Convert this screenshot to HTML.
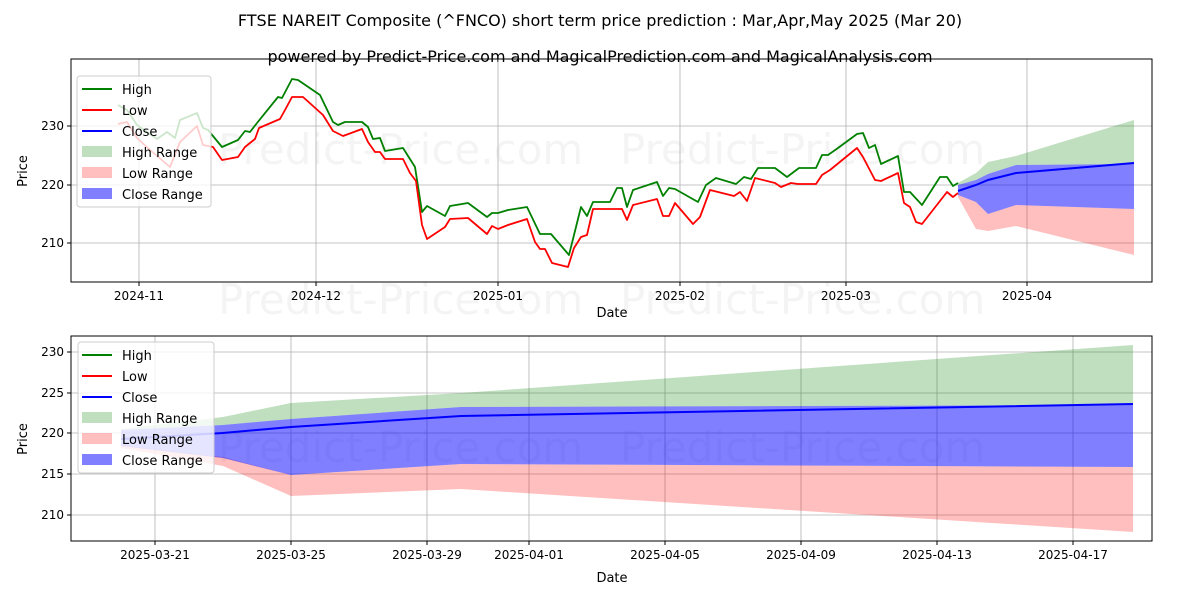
<!DOCTYPE html>
<html><head><meta charset="utf-8"><style>
body{margin:0;background:#fff;}
svg{display:block;font-family:"DejaVu Sans","Liberation Sans",sans-serif;}
</style></head><body>
<svg width="1200" height="600" viewBox="0 0 1200 600" xmlns="http://www.w3.org/2000/svg">
<rect width="1200" height="600" fill="#fff"/>
<text x="600" y="26" font-size="16" text-anchor="middle">FTSE NAREIT Composite (^FNCO) short term price prediction : Mar,Apr,May 2025 (Mar 20)</text>
<text x="600" y="62" font-size="16" text-anchor="middle">powered by Predict-Price.com and MagicalPrediction.com and MagicalAnalysis.com</text>

<!-- watermarks -->
<g fill="#000" fill-opacity="0.045" font-size="42">
<text x="218" y="164">Predict-Price.com</text>
<text x="620" y="164">Predict-Price.com</text>
<text x="218" y="314">Predict-Price.com</text>
<text x="620" y="314">Predict-Price.com</text>
<text x="218" y="462">Predict-Price.com</text>
<text x="620" y="462">Predict-Price.com</text>
</g>

<!-- TOP CHART -->
<g stroke="#b0b0b0" stroke-width="0.8">
<line x1="139" y1="59" x2="139" y2="282"/><line x1="316" y1="59" x2="316" y2="282"/>
<line x1="498" y1="59" x2="498" y2="282"/><line x1="680" y1="59" x2="680" y2="282"/>
<line x1="846" y1="59" x2="846" y2="282"/><line x1="1027" y1="59" x2="1027" y2="282"/>
<line x1="71" y1="126" x2="1152" y2="126"/><line x1="71" y1="185" x2="1152" y2="185"/><line x1="71" y1="243" x2="1152" y2="243"/>
</g>
<!-- forecast ranges top -->
<polygon fill="rgba(0,128,0,0.25)" points="958,183 976,173 988,162 1016,156 1134,120 1134,164 1016,165 988,174 976,180 958,185"/>
<polygon fill="rgba(255,0,0,0.25)" points="958,195 976,202 988,214 1016,205 1134,209 1134,255 1016,226 988,231 976,229 958,197"/>
<polygon fill="rgba(0,0,255,0.5)" points="958,185 976,180 988,174 1016,165 1134,164 1134,209 1016,205 988,214 976,202 958,195"/>
<polyline fill="none" stroke="#0000ff" stroke-width="2" points="958,191 976,185 988,180 1016,173 1134,163"/>
<polyline fill="none" stroke="#008000" stroke-width="1.8" stroke-linejoin="round" points="118,105 127,110 137,125 157,139 167,132 175,138 180,120 197,113 203,128 208,130 222,147 238,140 245,131 250,132 257,123 278,97 282,98 292,79 298,80 320,95 333,122 338,125 345,122 362,122 368,127 373,139 380,138 385,151 403,148 415,167 422,212 427,206 445,216 450,206 468,203 487,217 492,213 498,213 508,210 527,207 540,234 551,234 569,255 581,207 587,216 593,202 610,202 617,188 622,188 627,207 633,190 657,182 663,196 669,188 675,189 698,202 706,185 716,178 736,184 744,177 751,179 758,168 775,168 787,177 799,168 816,168 822,155 828,155 838,148 857,134 863,133 869,148 875,145 881,164 898,156 904,192 910,192 922,205 940,177 947,177 953,186 958,183"/>
<polyline fill="none" stroke="#ff0000" stroke-width="1.8" stroke-linejoin="round" points="118,124 127,122 137,138 150,150 170,167 180,142 197,126 203,145 213,147 222,160 238,157 245,147 255,139 259,128 280,119 285,110 292,97 303,97 323,115 333,131 343,136 362,129 368,142 375,152 380,152 385,159 403,159 410,173 416,181 422,225 427,239 445,227 450,219 468,218 487,234 492,226 498,229 508,225 527,219 535,242 540,249 545,249 552,263 568,267 574,248 581,237 587,235 593,209 622,209 627,220 633,205 657,199 663,216 669,216 675,203 693,224 700,217 710,190 734,196 740,192 747,201 755,178 775,183 781,187 791,183 798,184 816,184 822,175 830,170 857,148 863,157 875,180 881,181 898,173 904,203 910,207 916,222 922,224 947,192 953,197 958,193"/>
<rect x="71" y="59" width="1081" height="223" fill="none" stroke="#000" stroke-width="1"/>
<g stroke="#000"><line x1="139" y1="282" x2="139" y2="286"/><line x1="316" y1="282" x2="316" y2="286"/><line x1="498" y1="282" x2="498" y2="286"/><line x1="680" y1="282" x2="680" y2="286"/><line x1="846" y1="282" x2="846" y2="286"/><line x1="1027" y1="282" x2="1027" y2="286"/>
<line x1="67" y1="126" x2="71" y2="126"/><line x1="67" y1="185" x2="71" y2="185"/><line x1="67" y1="243" x2="71" y2="243"/></g>
<g font-size="12" text-anchor="middle">
<text x="139" y="300">2024-11</text><text x="316" y="300">2024-12</text><text x="498" y="300">2025-01</text><text x="680" y="300">2025-02</text><text x="846" y="300">2025-03</text><text x="1027" y="300">2025-04</text>
<text x="612" y="317" font-size="13">Date</text></g>
<g font-size="12" text-anchor="end"><text x="64" y="130">230</text><text x="64" y="189">220</text><text x="64" y="247">210</text></g>
<text x="27" y="171" font-size="13" text-anchor="middle" transform="rotate(-90 27 171)">Price</text>
<!-- legend top -->
<rect x="77" y="76" width="134" height="131" rx="3" fill="#fff" fill-opacity="0.8" stroke="#ccc"/>
<g font-size="13">
<line x1="82" y1="89" x2="112" y2="89" stroke="#008000" stroke-width="2"/><text x="122" y="94">High</text>
<line x1="82" y1="110" x2="112" y2="110" stroke="#ff0000" stroke-width="2"/><text x="122" y="115">Low</text>
<line x1="82" y1="131" x2="112" y2="131" stroke="#0000ff" stroke-width="2"/><text x="122" y="136">Close</text>
<rect x="82" y="146" width="30" height="11" fill="rgba(0,128,0,0.25)"/><text x="122" y="157">High Range</text>
<rect x="82" y="167" width="30" height="11" fill="rgba(255,0,0,0.25)"/><text x="122" y="178">Low Range</text>
<rect x="82" y="188" width="30" height="11" fill="rgba(0,0,255,0.5)"/><text x="122" y="199">Close Range</text>
</g>

<!-- BOTTOM CHART -->
<g stroke="#b0b0b0" stroke-width="0.8">
<line x1="155" y1="336" x2="155" y2="541"/><line x1="291" y1="336" x2="291" y2="541"/><line x1="427" y1="336" x2="427" y2="541"/><line x1="529" y1="336" x2="529" y2="541"/><line x1="665" y1="336" x2="665" y2="541"/><line x1="801" y1="336" x2="801" y2="541"/><line x1="937" y1="336" x2="937" y2="541"/><line x1="1073" y1="336" x2="1073" y2="541"/>
<line x1="71" y1="352" x2="1152" y2="352"/><line x1="71" y1="393" x2="1152" y2="393"/><line x1="71" y1="433" x2="1152" y2="433"/><line x1="71" y1="474" x2="1152" y2="474"/><line x1="71" y1="515" x2="1152" y2="515"/>
</g>
<polygon fill="rgba(0,128,0,0.25)" points="121,429 223,417 291,403 461,393 1133,345 1133,405 461,407 291,419 223,425 121,430"/>
<polygon fill="rgba(255,0,0,0.25)" points="121,445 223,457 291,475 461,464 1133,467 1133,532 461,489 291,496 223,466 121,448"/>
<polygon fill="rgba(0,0,255,0.5)" points="121,430 223,425 291,419 461,407 1133,405 1133,467 461,464 291,475 223,458 121,446"/>
<polyline fill="none" stroke="#0000ff" stroke-width="2" points="121,439 223,433 291,427 461,416 1133,404"/>
<rect x="71" y="336" width="1081" height="205" fill="none" stroke="#000" stroke-width="1"/>
<g stroke="#000"><line x1="155" y1="541" x2="155" y2="545"/><line x1="291" y1="541" x2="291" y2="545"/><line x1="427" y1="541" x2="427" y2="545"/><line x1="529" y1="541" x2="529" y2="545"/><line x1="665" y1="541" x2="665" y2="545"/><line x1="801" y1="541" x2="801" y2="545"/><line x1="937" y1="541" x2="937" y2="545"/><line x1="1073" y1="541" x2="1073" y2="545"/>
<line x1="67" y1="352" x2="71" y2="352"/><line x1="67" y1="393" x2="71" y2="393"/><line x1="67" y1="433" x2="71" y2="433"/><line x1="67" y1="474" x2="71" y2="474"/><line x1="67" y1="515" x2="71" y2="515"/></g>
<g font-size="12" text-anchor="middle">
<text x="155" y="559">2025-03-21</text><text x="291" y="559">2025-03-25</text><text x="427" y="559">2025-03-29</text><text x="529" y="559">2025-04-01</text><text x="665" y="559">2025-04-05</text><text x="801" y="559">2025-04-09</text><text x="937" y="559">2025-04-13</text><text x="1073" y="559">2025-04-17</text>
<text x="612" y="582" font-size="13">Date</text></g>
<g font-size="12" text-anchor="end"><text x="64" y="356">230</text><text x="64" y="397">225</text><text x="64" y="437">220</text><text x="64" y="478">215</text><text x="64" y="519">210</text></g>
<text x="27" y="439" font-size="13" text-anchor="middle" transform="rotate(-90 27 439)">Price</text>
<rect x="78" y="342" width="136" height="131" rx="3" fill="#fff" fill-opacity="0.8" stroke="#ccc"/>
<g font-size="13">
<line x1="82" y1="355" x2="112" y2="355" stroke="#008000" stroke-width="2"/><text x="122" y="360">High</text>
<line x1="82" y1="376" x2="112" y2="376" stroke="#ff0000" stroke-width="2"/><text x="122" y="381">Low</text>
<line x1="82" y1="397" x2="112" y2="397" stroke="#0000ff" stroke-width="2"/><text x="122" y="402">Close</text>
<rect x="82" y="412" width="30" height="11" fill="rgba(0,128,0,0.25)"/><text x="122" y="423">High Range</text>
<rect x="82" y="433" width="30" height="11" fill="rgba(255,0,0,0.25)"/><text x="122" y="444">Low Range</text>
<rect x="82" y="454" width="30" height="11" fill="rgba(0,0,255,0.5)"/><text x="122" y="465">Close Range</text>
</g>
</svg>
</body></html>
